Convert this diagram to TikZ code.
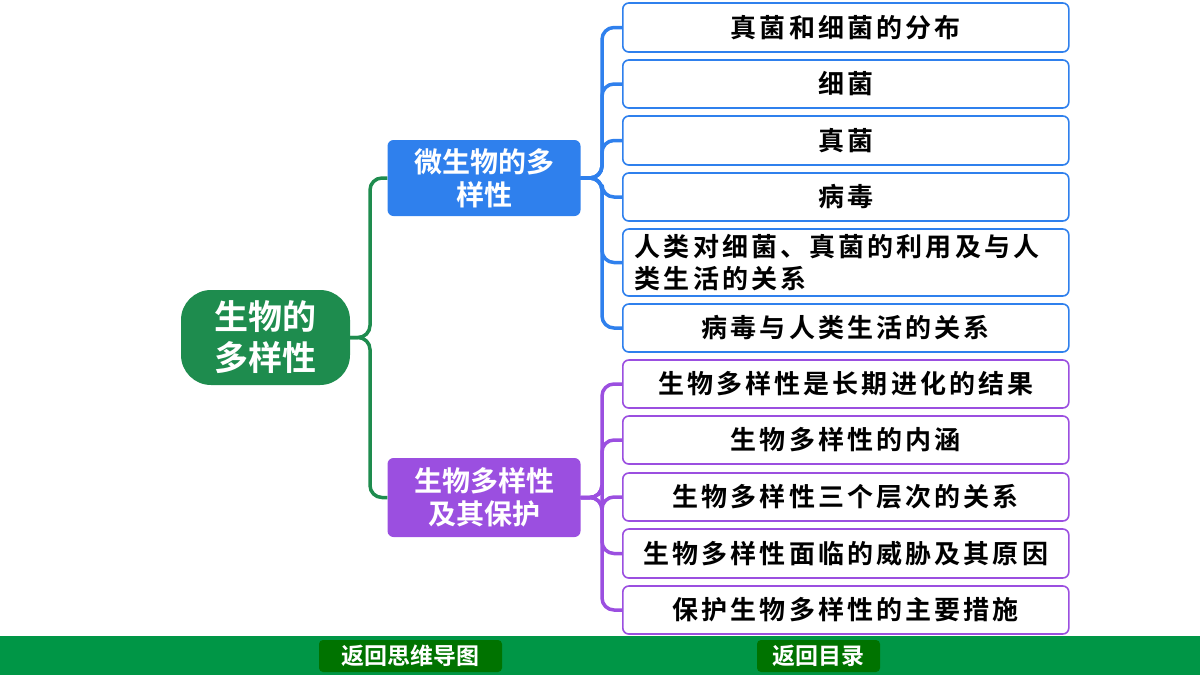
\documentclass[tikz,border=0pt]{standalone}
\usepackage{fontspec}
\setmainfont{Noto Sans CJK SC}[BoldFont={* Bold}]
\newfontfamily\leaffont{Noto Sans CJK SC Bold}[LetterSpace=12]
\begin{document}
\begin{tikzpicture}[x=1pt,y=-1pt,
 leaf/.style={draw,line width=1.6pt,rounded corners=6pt,fill=white,minimum width=446pt,font=\leaffont\fontsize{26}{32}\selectfont,inner sep=2pt,anchor=west},
 mid/.style={rounded corners=6pt,text=white,font=\bfseries\fontsize{28}{33}\selectfont,align=center,minimum width=193pt,inner sep=2pt},
 btn/.style={fill=green!45!black,rounded corners=4pt,text=white,font=\bfseries\fontsize{23}{26}\selectfont,minimum height=32pt,inner sep=1pt}]
\useasboundingbox (0,0) rectangle (1200,675);
\definecolor{cblue}{HTML}{2F80ED}
\definecolor{cpur}{HTML}{9B4FE0}
\definecolor{cgreen}{HTML}{1E8C4E}
\fill[color={rgb,255:red,0;green,150;blue,70}] (0,636) rectangle (1200,675);
\node[btn,minimum width=183pt] (b1) at (410.5,656) {返回思维导图};
\node[btn,minimum width=123pt] (b2) at (818.5,656) {返回目录};
\node[fill=cgreen,rounded corners=30pt,minimum width=169pt,minimum height=95pt,text=white,font=\bfseries\fontsize{34}{41}\selectfont,align=center,inner sep=1pt] (root) at (265.5,337.5) {生物的\\多样性};
\node[mid,fill=cblue,minimum height=76pt] (m1) at (484,178) {微生物的多\\样性};
\node[mid,fill=cpur,minimum height=79pt] (m2) at (484,497.5) {生物多样性\\及其保护};
\tikzset{bl/.style={leaf,draw=cblue},pl/.style={leaf,draw=cpur}}
\node[bl,minimum height=49pt] (a1) at (622,27.5) {真菌和细菌的分布};
\node[bl,minimum height=48pt] (a2) at (622,84) {细菌};
\node[bl,minimum height=49pt] (a3) at (622,140.5) {真菌};
\node[bl,minimum height=48pt] (a4) at (622,197) {病毒};
\node[bl,minimum height=67pt,align=left,inner xsep=12pt,inner ysep=3pt,text width=422pt] (a5) at (622,262.5) {人类对细菌、真菌的利用及与人\\类生活的关系};
\node[bl,minimum height=48pt] (a6) at (622,328) {病毒与人类生活的关系};
\node[pl,minimum height=48pt] (p1) at (622,384) {生物多样性是长期进化的结果};
\node[pl,minimum height=48pt] (p2) at (622,440) {生物多样性的内涵};
\node[pl,minimum height=48pt] (p3) at (622,497) {生物多样性三个层次的关系};
\node[pl,minimum height=49pt] (p4) at (622,553.5) {生物多样性面临的威胁及其原因};
\node[pl,minimum height=48pt] (p5) at (622,610) {保护生物多样性的主要措施};
\foreach \n in {a1,a2,a3,a4,a5,a6}
  \draw[cblue,line width=3.5pt,rounded corners=12pt] (m1.east) -- (602,178) |- (\n.west);
\foreach \n in {p1,p2,p3,p4,p5}
  \draw[cpur,line width=3.5pt,rounded corners=12pt] (m2.east) -- (602,497.5) |- (\n.west);
\draw[cgreen,line width=3.5pt,rounded corners=12pt] (root.east) -- (370,337.5) |- (m1.west);
\draw[cgreen,line width=3.5pt,rounded corners=12pt] (root.east) -- (370,337.5) |- (m2.west);
\end{tikzpicture}
\end{document}
